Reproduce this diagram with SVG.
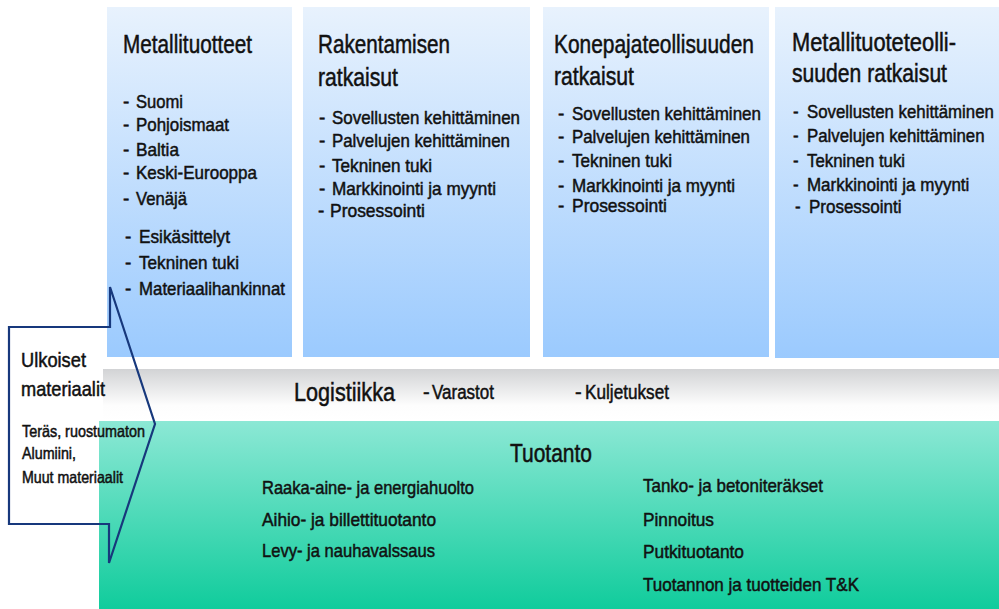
<svg xmlns="http://www.w3.org/2000/svg" width="999" height="609" viewBox="0 0 999 609">
<defs>
<linearGradient id="gBlue" x1="0" y1="0" x2="0" y2="1">
<stop offset="0" stop-color="#e8f2fd"/>
<stop offset="1" stop-color="#9bcafe"/>
</linearGradient>
<linearGradient id="gGray" x1="0" y1="0" x2="0" y2="1">
<stop offset="0" stop-color="#d2d3d5"/>
<stop offset="0.7" stop-color="#fdfdfd"/>
<stop offset="1" stop-color="#ffffff"/>
</linearGradient>
<linearGradient id="gGreen" x1="0" y1="0" x2="0" y2="1">
<stop offset="0" stop-color="#8ce8d5"/>
<stop offset="1" stop-color="#10cc9c"/>
</linearGradient>
</defs>
<style>
text{font-family:"Liberation Sans",Arial,sans-serif;fill:#111;stroke:#111;stroke-width:0.5}
.t{font-size:26px}
.l{font-size:19px}
.s{font-size:16.5px}
.c{font-size:21px}
.band{stroke:none}
.callout{fill:none;stroke:#17387c;stroke-width:2.2;stroke-linejoin:miter}
</style>

<g id="box-metallituotteet">
<rect x="107" y="7" width="185" height="350" fill="url(#gBlue)"/>
<text class="t" x="123" y="53" textLength="129" lengthAdjust="spacingAndGlyphs">Metallituotteet</text>
<text class="l" y="108"><tspan x="123">-</tspan><tspan x="136" textLength="47" lengthAdjust="spacingAndGlyphs">Suomi</tspan></text>
<text class="l" y="131"><tspan x="123">-</tspan><tspan x="136" textLength="93" lengthAdjust="spacingAndGlyphs">Pohjoismaat</tspan></text>
<text class="l" y="156"><tspan x="123">-</tspan><tspan x="136" textLength="43" lengthAdjust="spacingAndGlyphs">Baltia</tspan></text>
<text class="l" y="179"><tspan x="123">-</tspan><tspan x="136" textLength="121" lengthAdjust="spacingAndGlyphs">Keski-Eurooppa</tspan></text>
<text class="l" y="205"><tspan x="123">-</tspan><tspan x="136" textLength="51" lengthAdjust="spacingAndGlyphs">Venäjä</tspan></text>
<text class="l" y="243"><tspan x="125">-</tspan><tspan x="139" textLength="91" lengthAdjust="spacingAndGlyphs">Esikäsittelyt</tspan></text>
<text class="l" y="269"><tspan x="125">-</tspan><tspan x="139" textLength="100" lengthAdjust="spacingAndGlyphs">Tekninen tuki</tspan></text>
<text class="l" y="295"><tspan x="125">-</tspan><tspan x="139" textLength="146" lengthAdjust="spacingAndGlyphs">Materiaalihankinnat</tspan></text>
</g>

<g id="box-rakentamisen">
<rect x="303" y="7" width="227" height="350" fill="url(#gBlue)"/>
<text class="t" x="318" y="53" textLength="132" lengthAdjust="spacingAndGlyphs">Rakentamisen</text>
<text class="t" x="318" y="86" textLength="80" lengthAdjust="spacingAndGlyphs">ratkaisut</text>
<text class="l" y="124"><tspan x="319">-</tspan><tspan x="332" textLength="188" lengthAdjust="spacingAndGlyphs">Sovellusten kehittäminen</tspan></text>
<text class="l" y="147"><tspan x="319">-</tspan><tspan x="332" textLength="178" lengthAdjust="spacingAndGlyphs">Palvelujen kehittäminen</tspan></text>
<text class="l" y="172"><tspan x="319">-</tspan><tspan x="332" textLength="100" lengthAdjust="spacingAndGlyphs">Tekninen tuki</tspan></text>
<text class="l" y="195"><tspan x="319">-</tspan><tspan x="332" textLength="164" lengthAdjust="spacingAndGlyphs">Markkinointi ja myynti</tspan></text>
<text class="l" y="217"><tspan x="318">-</tspan><tspan x="330" textLength="95" lengthAdjust="spacingAndGlyphs">Prosessointi</tspan></text>
</g>

<g id="box-konepajateollisuus">
<rect x="543" y="7" width="226" height="350" fill="url(#gBlue)"/>
<text class="t" x="554" y="53" textLength="200" lengthAdjust="spacingAndGlyphs">Konepajateollisuuden</text>
<text class="t" x="554" y="85" textLength="80" lengthAdjust="spacingAndGlyphs">ratkaisut</text>
<text class="l" y="120"><tspan x="558">-</tspan><tspan x="572" textLength="189" lengthAdjust="spacingAndGlyphs">Sovellusten kehittäminen</tspan></text>
<text class="l" y="143"><tspan x="558">-</tspan><tspan x="572" textLength="178" lengthAdjust="spacingAndGlyphs">Palvelujen kehittäminen</tspan></text>
<text class="l" y="167"><tspan x="558">-</tspan><tspan x="572" textLength="100" lengthAdjust="spacingAndGlyphs">Tekninen tuki</tspan></text>
<text class="l" y="192"><tspan x="558">-</tspan><tspan x="572" textLength="163" lengthAdjust="spacingAndGlyphs">Markkinointi ja myynti</tspan></text>
<text class="l" y="212"><tspan x="558">-</tspan><tspan x="572" textLength="95" lengthAdjust="spacingAndGlyphs">Prosessointi</tspan></text>
</g>

<g id="box-metallituoteteollisuus">
<rect x="775" y="7" width="224" height="351" fill="url(#gBlue)"/>
<text class="t" x="792" y="51" textLength="164" lengthAdjust="spacingAndGlyphs">Metallituoteteolli-</text>
<text class="t" x="792" y="82" textLength="155" lengthAdjust="spacingAndGlyphs">suuden ratkaisut</text>
<text class="l" transform="translate(793,118) scale(0.885,1)"><tspan x="0">-</tspan><tspan x="15.8">Sovellusten kehittäminen</tspan></text>
<text class="l" transform="translate(793,142) scale(0.885,1)"><tspan x="0">-</tspan><tspan x="15.8">Palvelujen kehittäminen</tspan></text>
<text class="l" transform="translate(793,167) scale(0.885,1)"><tspan x="0">-</tspan><tspan x="15.8">Tekninen tuki</tspan></text>
<text class="l" transform="translate(793,191) scale(0.895,1)"><tspan x="0">-</tspan><tspan x="15.6">Markkinointi ja myynti</tspan></text>
<text class="l" transform="translate(795,213) scale(0.895,1)"><tspan x="0">-</tspan><tspan x="15.6">Prosessointi</tspan></text>
</g>

<g id="band-logistiikka">
<rect class="band" x="103" y="369" width="896" height="52" fill="url(#gGray)"/>
<text class="t" x="294" y="401" textLength="101" lengthAdjust="spacingAndGlyphs">Logistiikka</text>
<text class="l" y="399" style="font-size:20px"><tspan x="423">-</tspan><tspan x="432" textLength="62" lengthAdjust="spacingAndGlyphs">Varastot</tspan></text>
<text class="l" y="399" style="font-size:20px"><tspan x="575">-</tspan><tspan x="585" textLength="84" lengthAdjust="spacingAndGlyphs">Kuljetukset</tspan></text>
</g>

<g id="band-tuotanto">
<rect class="band" x="99" y="421" width="900" height="188" fill="url(#gGreen)"/>
<text class="t" x="510" y="462" textLength="82" lengthAdjust="spacingAndGlyphs" style="font-size:25px">Tuotanto</text>
<text class="l" x="262" y="494" textLength="212" lengthAdjust="spacingAndGlyphs">Raaka-aine- ja energiahuolto</text>
<text class="l" x="262" y="526" textLength="174" lengthAdjust="spacingAndGlyphs">Aihio- ja billettituotanto</text>
<text class="l" x="262" y="557" textLength="173" lengthAdjust="spacingAndGlyphs">Levy- ja nauhavalssaus</text>
<text class="l" x="643" y="492" textLength="180" lengthAdjust="spacingAndGlyphs">Tanko- ja betoniteräkset</text>
<text class="l" x="643" y="526" textLength="71" lengthAdjust="spacingAndGlyphs">Pinnoitus</text>
<text class="l" x="643" y="558" textLength="101" lengthAdjust="spacingAndGlyphs">Putkituotanto</text>
<text class="l" x="643" y="591" textLength="216" lengthAdjust="spacingAndGlyphs">Tuotannon ja tuotteiden T&amp;K</text>
</g>

<g id="callout-ulkoiset-materiaalit">
<path class="callout" d="M9,327 H110 V287 L155,424 L109,563 V524 H9 Z"/>
<text class="c" x="21" y="367" textLength="65" lengthAdjust="spacingAndGlyphs">Ulkoiset</text>
<text class="c" x="21" y="396" textLength="84" lengthAdjust="spacingAndGlyphs">materiaalit</text>
<text class="s" x="22" y="437" textLength="123" lengthAdjust="spacingAndGlyphs">Teräs, ruostumaton</text>
<text class="s" x="22" y="459" textLength="54" lengthAdjust="spacingAndGlyphs">Alumiini,</text>
<text class="s" x="22" y="483" textLength="101" lengthAdjust="spacingAndGlyphs">Muut materiaalit</text>
</g>

<g id="connectors"></g>
</svg>
